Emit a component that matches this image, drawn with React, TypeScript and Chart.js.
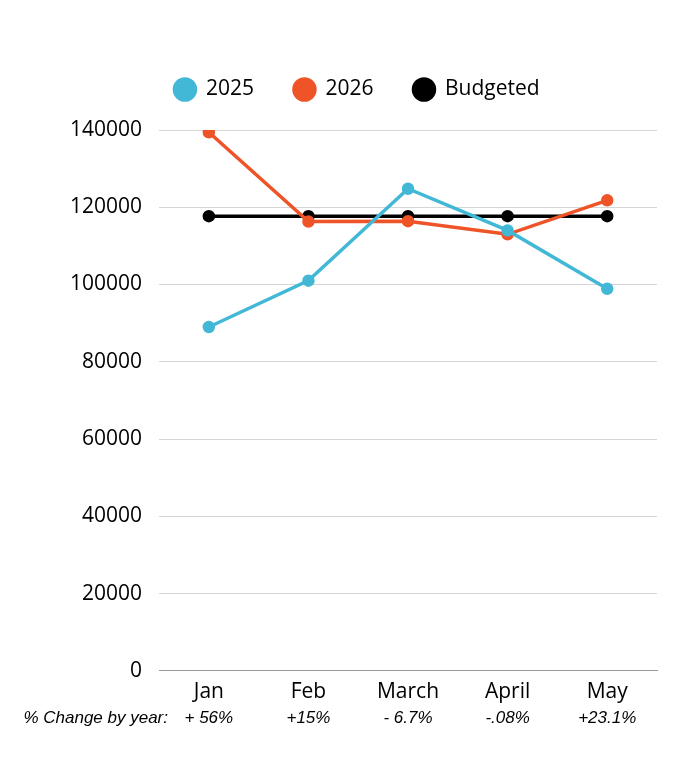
import React, { useEffect, useRef } from "react";
import { Chart, registerables } from "chart.js";

Chart.register(...registerables);

const categories = ["Jan", "Feb", "March", "April", "May"];
const values2025 = [89000, 101000, 124800, 114000, 98900];
const values2026 = [139400, 116300, 116400, 113000, 121800];
const valuesBudgeted = [117700, 117700, 117700, 117700, 117700];
const changeLabels = ["+ 56%", "+15%", "- 6.7%", "-.08%", "+23.1%"];
const changeTitle = "% Change by year:";

const changePlugin = {
  id: "changeRow",
  afterDraw(chart: any) {
    const ctx = chart.ctx;
    const xs = chart.scales.x;
    const y = 718;
    ctx.save();
    ctx.font = "italic 17px 'Liberation Sans', Arial, sans-serif";
    ctx.fillStyle = "#000";
    ctx.textBaseline = "middle";
    ctx.textAlign = "right";
    ctx.fillText(changeTitle, 168, y);
    ctx.textAlign = "center";
    changeLabels.forEach((t, i) => {
      ctx.fillText(t, xs.getPixelForValue(i), y);
    });
    ctx.restore();
  },
};

const legendGap = {
  id: "legendGap",
  beforeInit(chart: any) {
    const legend = chart.legend;
    if (!legend) return;
    const fit = legend.fit;
    legend.fit = function () {
      fit.bind(legend)();
      this.height += 20;
    };
  },
  afterLayout(chart: any) {
    const legend = chart.legend;
    if (!legend) return;
    legend.left += 2;
    legend.right += 2;
  },
};

export default function App() {
  const ref = useRef<HTMLCanvasElement>(null);
  useEffect(() => {
    if (!ref.current) return;
    const chart = new Chart(ref.current, {
      type: "line",
      data: {
        labels: categories,
        datasets: [
          {
            label: "2025",
            data: values2025,
            borderColor: "#42b8d6",
            backgroundColor: "#42b8d6",
            pointBackgroundColor: "#42b8d6",
            pointBorderColor: "#42b8d6",
            borderWidth: 3.5,
            pointRadius: 4.5,
            tension: 0,
          },
          {
            label: "2026",
            data: values2026,
            borderColor: "#ef5428",
            backgroundColor: "#ef5428",
            pointBackgroundColor: "#ef5428",
            pointBorderColor: "#ef5428",
            borderWidth: 3.5,
            pointRadius: 4.5,
            tension: 0,
          },
          {
            label: "Budgeted",
            data: valuesBudgeted,
            borderColor: "#000000",
            backgroundColor: "#000000",
            pointBackgroundColor: "#000000",
            pointBorderColor: "#000000",
            borderWidth: 3.5,
            pointRadius: 4.5,
            tension: 0,
          },
        ],
      },
      options: {
        responsive: false,
        animation: false,
        layout: { padding: { top: 39, left: 53, right: 23, bottom: 54 } },
        plugins: {
          legend: {
            position: "top",
            labels: {
              usePointStyle: true,
              pointStyle: "circle",
              boxHeight: 15,
              boxWidth: 21,
              pointStyleWidth: 21,
              padding: 40,
              color: "#000",
              font: { family: "'Open Sans'", size: 21 },
            },
          },
          tooltip: { enabled: false },
        },
        scales: {
          x: {
            offset: true,
            grid: { display: false, drawTicks: false },
            border: { display: true, color: "#999", width: 1 },
            ticks: { color: "#000", font: { family: "'Open Sans'", size: 21 }, padding: 9 },
          },
          y: {
            min: 0,
            max: 140000,
            ticks: {
              stepSize: 20000,
              color: "#000",
              font: { family: "'Open Sans'", size: 21 },
              padding: 17,
              callback: (v: any) => String(v),
            },
            grid: { color: "#d6d6d6", lineWidth: 1, drawTicks: false },
            border: { display: false },
          },
        },
      },
      plugins: [changePlugin, legendGap],
    });
    return () => chart.destroy();
  }, []);
  return (
    <div style={{ position: "fixed", left: 0, top: 0, width: 680, height: 768, background: "#fff" }}>
      <canvas ref={ref} width={680} height={768} />
    </div>
  );
}
